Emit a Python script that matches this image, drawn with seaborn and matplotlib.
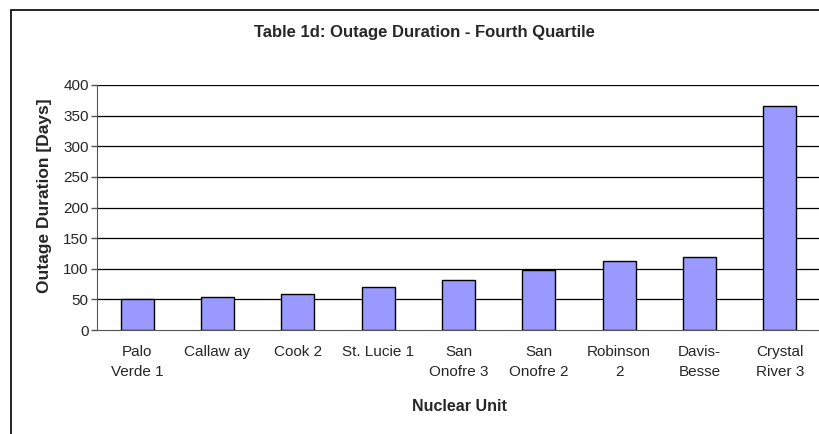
import numpy as np
import pandas as pd
import seaborn as sns
import matplotlib.pyplot as plt
from matplotlib.patches import Rectangle

# data
units = ['Palo\nVerde 1', 'Callaw ay', 'Cook 2', 'St. Lucie 1', 'San\nOnofre 3',
         'San\nOnofre 2', 'Robinson\n2', 'Davis-\nBesse', 'Crystal\nRiver 3']
days = [50, 54, 58, 70, 82, 98, 113, 120, 365]
yticks = [0, 50, 100, 150, 200, 250, 300, 350, 400]

df = pd.DataFrame({'unit': units, 'days': days})

sns.set_style('white')
plt.rcParams['font.family'] = ['Liberation Sans', 'DejaVu Sans']

fig = plt.figure(figsize=(8.2, 4.34), dpi=100)
ax = fig.add_axes([97/820, 1 - 330/434, 1 - 97/820, 245/434])

sns.barplot(data=df, x='unit', y='days', color='#9999FF', saturation=1,
            width=0.41, edgecolor='black', linewidth=1, ax=ax, zorder=3)

ax.set_ylim(0, 400)
ax.set_xlim(-0.5, len(units) - 0.5)
ax.set_yticks(yticks)
ax.set_yticklabels([str(v) for v in yticks], fontsize=11)
for v in yticks[1:]:
    ax.axhline(v, color='black', lw=0.9, zorder=1)

# category boundary ticks on x
ax.set_xticks(np.arange(len(units)))
ax.set_xticklabels(units, fontsize=11, linespacing=1.55, va='top')
ax.tick_params(axis='x', length=0, pad=11)
ax.set_xticks(np.arange(len(units) + 1) - 0.5, minor=True)
ax.tick_params(axis='x', which='minor', length=5, width=1, color='#555555', direction='out')
ax.tick_params(axis='y', length=4, width=1, color='#555555', direction='out', pad=2, left=True)

for s in ['top', 'right']:
    ax.spines[s].set_visible(False)
ax.spines['left'].set_color('#555555')
ax.spines['bottom'].set_color('#555555')

ax.set_xlabel('Nuclear Unit', fontsize=11.5, fontweight='bold')
ax.xaxis.set_label_coords((459 - 97) / 723, (330 - 399) / 245)
ax.set_ylabel('Outage Duration [Days]', fontsize=12.5, fontweight='bold')
ax.yaxis.set_label_coords((52 - 97) / 723, (330 - 196) / 245)
fig.text(424/820, 1 - 33/434, 'Table 1d: Outage Duration - Fourth Quartile',
         ha='center', va='center', fontsize=12, fontweight='bold')

# chart area border
fig.patches.append(Rectangle((11/820, -0.1), 1.2, 1 - 10/434 + 0.1, transform=fig.transFigure,
                             fill=False, edgecolor='black', lw=1.2))

fig.savefig('out.png', dpi=100)
